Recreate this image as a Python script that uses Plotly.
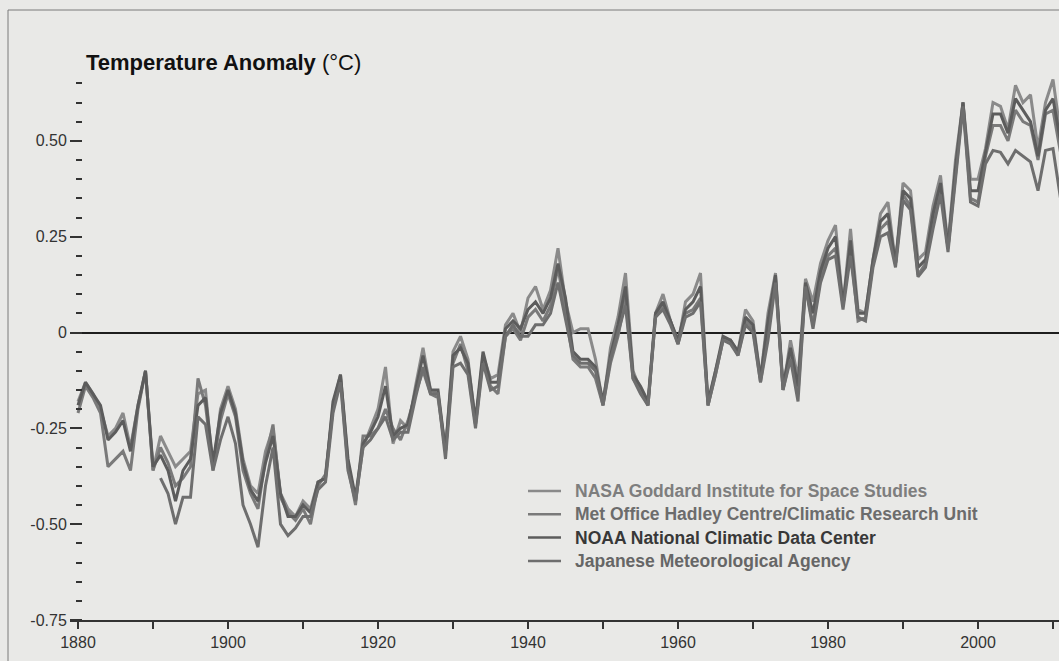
import plotly.graph_objects as go

# Annual global temperature anomalies (°C) from four datasets
years = list(range(1880, 2012))

nasa = [
    -0.18, -0.13, -0.16, -0.20, -0.27, -0.25, -0.21, -0.30, -0.19, -0.10,
    -0.36, -0.27, -0.31, -0.35, -0.33, -0.31, -0.16, -0.15, -0.36, -0.20,
    -0.14, -0.20, -0.33, -0.40, -0.42, -0.31, -0.25, -0.42, -0.46, -0.48,
    -0.44, -0.46, -0.39, -0.38, -0.19, -0.11, -0.34, -0.44, -0.30, -0.25,
    -0.20, -0.09, -0.29, -0.23, -0.25, -0.14, -0.04, -0.15, -0.16, -0.31,
    -0.05, -0.01, -0.07, -0.24, -0.06, -0.12, -0.11, 0.02, 0.05, 0.00,
    0.09, 0.12, 0.06, 0.11, 0.22, 0.08, 0.00, 0.01, 0.01, -0.07,
    -0.19, -0.04, 0.04, 0.155, -0.10, -0.15, -0.19, 0.05, 0.10, 0.03,
    -0.03, 0.08, 0.10, 0.155, -0.19, -0.10, -0.02, -0.02, -0.05, 0.06,
    0.03, -0.12, 0.05, 0.155, -0.15, -0.02, -0.12, 0.14, 0.08, 0.18,
    0.24, 0.28, 0.07, 0.27, 0.06, 0.05, 0.19, 0.31, 0.34, 0.18,
    0.39, 0.37, 0.19, 0.21, 0.33, 0.41, 0.23, 0.45, 0.60, 0.40,
    0.40, 0.48, 0.60, 0.59, 0.53, 0.645, 0.60, 0.62, 0.48, 0.60,
    0.66, 0.52,
]

hadcru = [
    -0.21, -0.14, -0.17, -0.21, -0.35, -0.33, -0.31, -0.36, -0.20, -0.10,
    -0.36, -0.30, -0.34, -0.40, -0.38, -0.35, -0.12, -0.19, -0.35, -0.23,
    -0.16, -0.22, -0.36, -0.42, -0.46, -0.33, -0.24, -0.43, -0.47, -0.49,
    -0.46, -0.50, -0.40, -0.37, -0.20, -0.12, -0.35, -0.45, -0.27, -0.27,
    -0.25, -0.20, -0.25, -0.28, -0.23, -0.16, -0.10, -0.16, -0.17, -0.31,
    -0.08, -0.03, -0.10, -0.24, -0.07, -0.14, -0.16, -0.01, 0.01, -0.02,
    0.04, 0.06, 0.03, 0.07, 0.17, 0.05, -0.07, -0.09, -0.09, -0.12,
    -0.19, -0.08, -0.01, 0.09, -0.12, -0.15, -0.19, 0.04, 0.07, 0.03,
    -0.03, 0.05, 0.06, 0.09, -0.19, -0.11, -0.02, -0.02, -0.06, 0.03,
    0.01, -0.13, 0.00, 0.14, -0.15, -0.06, -0.16, 0.12, 0.02, 0.14,
    0.20, 0.22, 0.07, 0.22, 0.03, 0.04, 0.18, 0.27, 0.29, 0.18,
    0.36, 0.33, 0.15, 0.18, 0.29, 0.38, 0.22, 0.42, 0.60, 0.35,
    0.34, 0.46, 0.54, 0.54, 0.50, 0.58, 0.55, 0.54, 0.45, 0.57,
    0.58, 0.47,
]

noaa = [
    -0.19, -0.13, -0.16, -0.19, -0.28, -0.26, -0.23, -0.31, -0.19, -0.10,
    -0.35, -0.32, -0.36, -0.44, -0.36, -0.33, -0.19, -0.17, -0.34, -0.21,
    -0.15, -0.21, -0.34, -0.41, -0.44, -0.34, -0.27, -0.42, -0.48, -0.48,
    -0.45, -0.47, -0.39, -0.38, -0.18, -0.11, -0.33, -0.43, -0.29, -0.26,
    -0.22, -0.14, -0.27, -0.25, -0.24, -0.15, -0.06, -0.15, -0.15, -0.31,
    -0.06, -0.04, -0.08, -0.23, -0.05, -0.13, -0.13, 0.01, 0.03, 0.01,
    0.06, 0.08, 0.05, 0.09, 0.18, 0.09, -0.05, -0.07, -0.07, -0.09,
    -0.18, -0.06, 0.02, 0.12, -0.11, -0.14, -0.18, 0.05, 0.08, 0.03,
    -0.02, 0.06, 0.08, 0.12, -0.18, -0.10, -0.01, -0.02, -0.05, 0.04,
    0.02, -0.12, 0.03, 0.15, -0.14, -0.04, -0.14, 0.13, 0.05, 0.16,
    0.22, 0.25, 0.07, 0.24, 0.05, 0.05, 0.19, 0.29, 0.31, 0.18,
    0.37, 0.35, 0.17, 0.19, 0.31, 0.39, 0.22, 0.43, 0.60, 0.37,
    0.37, 0.47, 0.57, 0.57, 0.52, 0.61, 0.58, 0.55, 0.46, 0.58,
    0.61, 0.50,
]

# JMA record begins in 1891
jma = [None] * 11 + [
    -0.38, -0.42, -0.50, -0.43, -0.43, -0.22, -0.24, -0.36, -0.28,
    -0.22, -0.29, -0.45, -0.50, -0.56, -0.40, -0.30, -0.50, -0.53, -0.51,
    -0.48, -0.48, -0.41, -0.39, -0.21, -0.13, -0.36, -0.44, -0.30, -0.28,
    -0.25, -0.22, -0.28, -0.26, -0.26, -0.17, -0.09, -0.16, -0.16, -0.33,
    -0.09, -0.08, -0.11, -0.25, -0.08, -0.15, -0.14, -0.01, 0.02, -0.01,
    -0.01, 0.02, 0.02, 0.05, 0.13, 0.03, -0.06, -0.08, -0.08, -0.10,
    -0.19, -0.07, 0.00, 0.07, -0.12, -0.16, -0.19, 0.04, 0.06, 0.02,
    -0.03, 0.04, 0.05, 0.08, -0.19, -0.11, -0.02, -0.03, -0.06, 0.02,
    0.00, -0.13, -0.02, 0.13, -0.15, -0.07, -0.18, 0.12, 0.01, 0.13,
    0.19, 0.20, 0.06, 0.20, 0.04, 0.03, 0.17, 0.25, 0.26, 0.17,
    0.345, 0.32, 0.145, 0.17, 0.27, 0.36, 0.21, 0.40, 0.59, 0.34,
    0.33, 0.44, 0.475, 0.47, 0.44, 0.475, 0.46, 0.445, 0.37, 0.475,
    0.48, 0.35,
]

series_names = [
    "NASA Goddard Institute for Space Studies",
    "Met Office Hadley Centre/Climatic Research Unit",
    "NOAA National Climatic Data Center",
    "Japanese Meteorological Agency",
]
series_values = [nasa, hadcru, noaa, jma]
line_colors = ["#8a8a8a", "#7a7a7a", "#5c5c5c", "#6e6e6e"]
label_colors = ["#7e7e7e", "#6c6c6c", "#383838", "#666666"]

y_major = [-0.75, -0.5, -0.25, 0, 0.25, 0.5]
y_major_text = ["-0.75", "-0.50", "-0.25", "0", "0.25", "0.50"]
y_minor = [round(-0.75 + 0.05 * i, 2) for i in range(1, 29)]
x_ticks = list(range(1880, 2011, 10))
x_tick_text = [str(y) if (y - 1880) % 20 == 0 else "" for y in x_ticks]

FONT = "Liberation Sans, Arial, sans-serif"
BG = "#e9e9e7"

W, H = 1059, 661
ML, MR, MT, MB = 70, 0, 45, 41
plot_w = W - ML - MR
plot_h = H - MT - MB
px_per_year = 7.5
x0 = 1880 - 8 / px_per_year
x1 = x0 + plot_w / px_per_year


def px_to_paper_x(px):
    return (px - ML) / plot_w


def px_to_paper_y(py):
    return (H - MB - py) / plot_h


fig = go.Figure()

for name, vals, lc in zip(series_names, series_values, line_colors):
    fig.add_trace(go.Scatter(
        x=years, y=vals, mode="lines", connectgaps=False,
        line=dict(color=lc, width=3),
        name=name, showlegend=False, hoverinfo="skip",
    ))

# carrier trace for the offset tick axis
fig.add_trace(go.Scatter(
    x=[years[0]], y=[0], yaxis="y2", mode="markers",
    marker=dict(opacity=0), showlegend=False, hoverinfo="skip",
))

# Key: short line swatch plus label for each dataset
key_top, key_step = 491, 23.3
shapes = []
annotations = []
for i, (name, lc, tc) in enumerate(zip(series_names, line_colors, label_colors)):
    ky = px_to_paper_y(key_top + i * key_step)
    shapes.append(dict(
        type="line", xref="paper", yref="paper",
        x0=px_to_paper_x(528), x1=px_to_paper_x(561), y0=ky, y1=ky,
        line=dict(color=lc, width=2.5),
    ))
    annotations.append(dict(
        xref="paper", yref="paper", x=px_to_paper_x(573), y=ky,
        xanchor="left", yanchor="middle", showarrow=False,
        text=f"<b>{name}</b>",
        font=dict(family=FONT, size=17.5, color=tc),
    ))

# Outer frame
shapes.append(dict(
    type="rect", xref="paper", yref="paper", layer="below",
    x0=px_to_paper_x(8), x1=px_to_paper_x(W + 20),
    y0=px_to_paper_y(H + 20), y1=px_to_paper_y(10),
    line=dict(color="#7a7a7a", width=1), fillcolor="rgba(0,0,0,0)",
))

annotations.append(dict(
    xref="paper", yref="paper",
    x=px_to_paper_x(84), y=px_to_paper_y(62),
    xanchor="left", yanchor="middle", showarrow=False,
    text="<b>Temperature Anomaly</b> (°C)",
    font=dict(family=FONT, size=22, color="#111111"),
))

fig.update_layout(
    width=W, height=H,
    margin=dict(l=ML, r=MR, t=MT, b=MB, pad=0),
    paper_bgcolor=BG, plot_bgcolor=BG,
    font=dict(family=FONT, color="#333333", size=16),
    showlegend=False,
    xaxis=dict(
        range=[x0, x1], showgrid=False, zeroline=False,
        showline=True, linecolor="#333333", linewidth=2,
        ticks="outside", ticklen=7, tickwidth=1.5, tickcolor="#333333",
        tickmode="array", tickvals=x_ticks, ticktext=x_tick_text,
        tickfont=dict(family=FONT, size=16, color="#333333"),
        automargin=False, fixedrange=True,
    ),
    yaxis=dict(
        range=[-0.75, 0.75], showgrid=False, showline=False,
        showticklabels=False, ticks="",
        zeroline=True, zerolinecolor="#1e1e1e", zerolinewidth=1.5,
        automargin=False, fixedrange=True,
    ),
    yaxis2=dict(
        range=[-0.75, 0.75], overlaying="y", anchor="free",
        position=px_to_paper_x(82), side="left",
        showgrid=False, showline=False, zeroline=False,
        tickmode="array", tickvals=y_major, ticktext=y_major_text,
        ticks="outside", ticklen=12, tickwidth=2, tickcolor="#333333",
        tickfont=dict(family=FONT, size=16, color="#333333"),
        minor=dict(tickmode="array", tickvals=y_minor, ticks="outside",
                   ticklen=6, tickwidth=2, tickcolor="#333333", showgrid=False),
        automargin=False, fixedrange=True,
    ),
    shapes=shapes,
    annotations=annotations,
)

fig.write_html("out.html")
